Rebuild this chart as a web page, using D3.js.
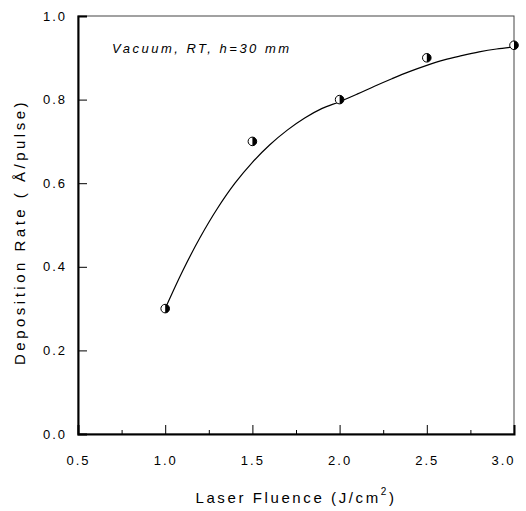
<!DOCTYPE html>
<html>
<head>
<meta charset="utf-8">
<script src="https://cdn.jsdelivr.net/npm/d3@7"></script>
<style>
  body { margin: 0; background: #fff; }
  text { font-family: "Liberation Sans", Arial, sans-serif; fill: #000; }
</style>
</head>
<body>
<script>
// measured points
const fluence = [1.0, 1.5, 2.0, 2.5, 3.0];
const rate = [0.30, 0.70, 0.80, 0.90, 0.93];
// fitted curve
const fitX = [1.0, 1.1, 1.2, 1.3, 1.4, 1.5, 1.6, 1.7, 1.8, 1.9, 2.0,
              2.1, 2.2, 2.3, 2.4, 2.5, 2.6, 2.7, 2.8, 2.9, 3.0];
const fitY = [0.300, 0.390, 0.470, 0.540, 0.600, 0.650, 0.692, 0.727, 0.756, 0.779, 0.795,
              0.813, 0.832, 0.850, 0.867, 0.882, 0.895, 0.905, 0.914, 0.921, 0.926];
const xMajor = [0.5, 1.0, 1.5, 2.0, 2.5, 3.0];
const xMinor = [0.75, 1.25, 1.75, 2.25, 2.75];
const yMajor = [0.0, 0.2, 0.4, 0.6, 0.8, 1.0];

const W = 526, H = 511;
const m = {left: 78, right: 12, top: 16, bottom: 77};

const svg = d3.select('body').append('svg')
    .attr('width', W)
    .attr('height', H);

const x = d3.scaleLinear().domain([0.5, 3.0]).range([m.left, W - m.right]);
const y = d3.scaleLinear().domain([0, 1.0]).range([H - m.bottom, m.top]);

// frame: top/right thin
svg.append('rect')
    .attr('x', x(0.5)).attr('y', y(1))
    .attr('width', x(3) - x(0.5)).attr('height', y(0) - y(1))
    .attr('fill', 'none').attr('stroke', '#444').attr('stroke-width', 1);

// x axis (ticks inward)
const xAxis = svg.append('g').attr('transform', `translate(0,${y(0)})`)
    .call(d3.axisBottom(x).tickValues(xMajor).tickSize(-9).tickFormat(d3.format('.1f')));
svg.append('g').attr('transform', `translate(0,${y(0)})`)
    .call(d3.axisBottom(x).tickValues(xMinor).tickSize(-4).tickFormat(''))
    .call(g => g.select('.domain').remove());

const yAxis = svg.append('g').attr('transform', `translate(${x(0.5)},0)`)
    .call(d3.axisLeft(y).tickValues(yMajor).tickSize(-9).tickFormat(d3.format('.1f')));

svg.selectAll('.domain').attr('stroke', '#000').attr('stroke-width', 2);
svg.selectAll('.tick line').attr('stroke', '#000').attr('stroke-width', 1);
xAxis.selectAll('.tick text')
    .attr('y', 22)
    .style('font-size', '13px')
    .style('letter-spacing', '2px');
// last label sits inside the window
xAxis.selectAll('.tick text').filter(d => d === 3.0)
    .style('text-anchor', 'end')
    .attr('x', 1);
yAxis.selectAll('.tick text')
    .attr('x', -11)
    .style('text-anchor', 'end')
    .style('font-size', '13px')
    .style('letter-spacing', '2px');
svg.selectAll('.tick text').attr('fill', '#000');

// fitted curve
const fit = fitX.map((v, i) => [v, fitY[i]]);
svg.append('path')
    .datum(fit)
    .attr('fill', 'none')
    .attr('stroke', '#000')
    .attr('stroke-width', 1.2)
    .attr('d', d3.line().x(d => x(d[0])).y(d => y(d[1])).curve(d3.curveCatmullRom));

// half-filled markers
const r = 4.3;
const pts = svg.selectAll('.pt')
    .data(fluence.map((v, i) => [v, rate[i]]))
    .enter().append('g')
    .attr('class', 'pt')
    .attr('transform', d => `translate(${x(d[0])},${y(d[1])})`);
pts.append('circle').attr('r', r).attr('fill', '#fff');
pts.append('path')
    .attr('d', `M0,${-r} A${r},${r} 0 0,1 0,${r} Z`)
    .attr('fill', '#000');
pts.append('circle').attr('r', r).attr('fill', 'none').attr('stroke', '#000').attr('stroke-width', 1);

// annotation
svg.append('text')
    .attr('x', 112).attr('y', 53)
    .style('font-size', '13px')
    .style('font-style', 'italic')
    .style('letter-spacing', '2.5px')
    .text('Vacuum, RT, h=30 mm');

// axis titles
const xt = svg.append('text')
    .attr('x', 296).attr('y', 503)
    .attr('text-anchor', 'middle')
    .style('font-size', '15px')
    .style('letter-spacing', '2.6px');
xt.append('tspan').text('Laser Fluence (J/cm');
xt.append('tspan').attr('dy', -8).style('font-size', '10px').text('2');
xt.append('tspan').attr('dy', 8).text(')');

svg.append('text')
    .attr('transform', `translate(25,232) rotate(-90)`)
    .attr('text-anchor', 'middle')
    .style('font-size', '15px')
    .style('letter-spacing', '3.5px')
    .text('Deposition Rate ( Å/pulse)');
</script>
</body>
</html>
